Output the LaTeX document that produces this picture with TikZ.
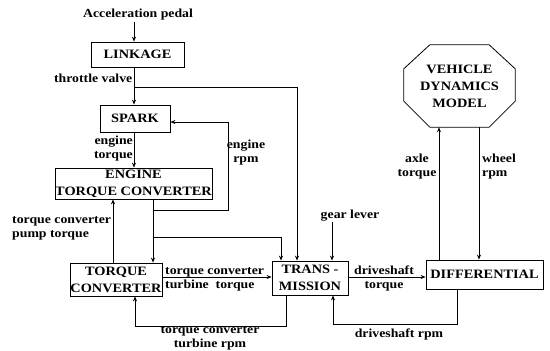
\documentclass[tikz,border=0pt]{standalone}
\usepackage{fontspec}
\setmainfont{Liberation Serif}[FakeStretch=1.12]
\usetikzlibrary{arrows.meta}
\begin{document}
\begin{tikzpicture}[x=1pt,y=-1pt,
  every node/.style={font=\bfseries\fontsize{12.3}{14}\selectfont, inner sep=0pt},
  blk/.style={draw, line width=0.8pt, align=center, font=\bfseries\fontsize{12.8}{17}\selectfont},
  lbl/.style={align=center},
  conn/.style={line width=0.8pt, -{Stealth[length=5pt,width=4pt]}}]
\useasboundingbox (0,0) rectangle (550,351);
% blocks
\node[blk, minimum width=93pt, minimum height=25pt] (link) at (137.5,54.5) {LINKAGE};
\node[blk, minimum width=70pt, minimum height=27pt] (spark) at (135,118.5) {SPARK};
\node[blk, minimum width=157pt, minimum height=31pt] (etc) at (133.5,183.5) {ENGINE\\TORQUE CONVERTER};
\node[blk, minimum width=92pt, minimum height=33pt] (tc) at (116,279.5) {TORQUE\\CONVERTER};
\node[blk, minimum width=76pt, minimum height=34pt] (trans) at (310,278) {TRANS -\\MISSION};
\node[blk, minimum width=117pt, minimum height=29pt] (diff) at (484.5,274.5) {DIFFERENTIAL};
\node[align=center, minimum width=111pt, minimum height=82pt, font=\bfseries\fontsize{12.8}{17}\selectfont] (vdm) at (459.5,86) {VEHICLE\\DYNAMICS\\MODEL};
\draw[line width=0.8pt] ([xshift=26pt]vdm.north west) -- ([xshift=-26pt]vdm.north east)
  -- ([yshift=-24pt]vdm.north east) -- ([yshift=26pt]vdm.south east)
  -- ([xshift=-26pt]vdm.south east) -- ([xshift=26pt]vdm.south west)
  -- ([yshift=26pt]vdm.south west) -- ([yshift=-24pt]vdm.north west) -- cycle;
% helper coordinates
\coordinate (pedal) at (134,22);
\coordinate (thr) at (134,87);
\coordinate (thrR) at (297,87);
\coordinate (erpm) at (153,210);
\coordinate (erpmR) at (228,210);
\coordinate (erpmT) at (228,122);
\coordinate (etr) at (153,237);
\coordinate (etrR) at (281,237);
\coordinate (gear) at (332,222);
\coordinate (dsA) at (457,324);
\coordinate (dsB) at (333,324);
\coordinate (ttA) at (286,326);
\coordinate (ttB) at (135,326);
\coordinate (pump) at (113,250);
\coordinate (tct) at (0,277);
\coordinate (axle) at (439,200);
\coordinate (wheel) at (479,200);
% labels
\node[lbl] (lpedal) at (138,15) {Acceleration pedal};
\node[lbl, anchor=east] (lthr) at (132.5,78) {throttle valve};
\node[lbl, anchor=east, align=right] (let) at (133,149) {engine\\torque};
\node[lbl] (lerpm) at (246,153) {engine\\rpm};
\node[lbl, anchor=west, align=left] (lpump) at (12,228.5) {torque converter\\pump torque};
\node[lbl, anchor=west, align=left] (ltt) at (165,279.5) {torque converter\\turbine\ \ torque};
\node[lbl] (lgear) at (350,216) {gear lever};
\node[lbl] (lds) at (384,278) {driveshaft\\torque};
\node[lbl] (ldsr) at (399,334) {driveshaft rpm};
\node[lbl] (lttr) at (210,338) {torque converter\\turbine rpm};
\node[lbl] (laxle) at (417,167) {axle\\torque};
\node[lbl, anchor=west, align=left] (lwheel) at (482,167) {wheel\\rpm};
% connectors
\draw[conn] (pedal) -- (pedal |- link.north);
\draw[conn] (pedal |- link.south) -- (pedal |- spark.north);
\draw[conn] (thr) -- (thrR) -- (thrR |- trans.north);
\draw[conn] (pedal |- spark.south) -- (pedal |- etc.north);
\draw[conn] (erpm |- etc.south) -- (erpm |- tc.north);
\draw[conn] (erpm) -- (erpmR) -- (erpmT) -- (spark.east |- erpmT);
\draw[conn] (etr) -- (etrR) -- (etrR |- trans.north);
\draw[conn] (pump |- tc.north) -- (pump |- etc.south);
\draw[conn] (tc.east |- tct) -- (trans.west |- tct);
\draw[conn] (trans.east |- tct) -- (diff.west |- tct);
\draw[conn] (gear) -- (gear |- trans.north);
\draw[conn] (dsA |- diff.south) -- (dsA) -- (dsB) -- (dsB |- trans.south);
\draw[conn] (ttA |- trans.south) -- (ttA) -- (ttB) -- (ttB |- tc.south);
\draw[conn] (axle |- diff.north) -- (axle |- vdm.south);
\draw[conn] (wheel |- vdm.south) -- (wheel |- diff.north);
\end{tikzpicture}
\end{document}
